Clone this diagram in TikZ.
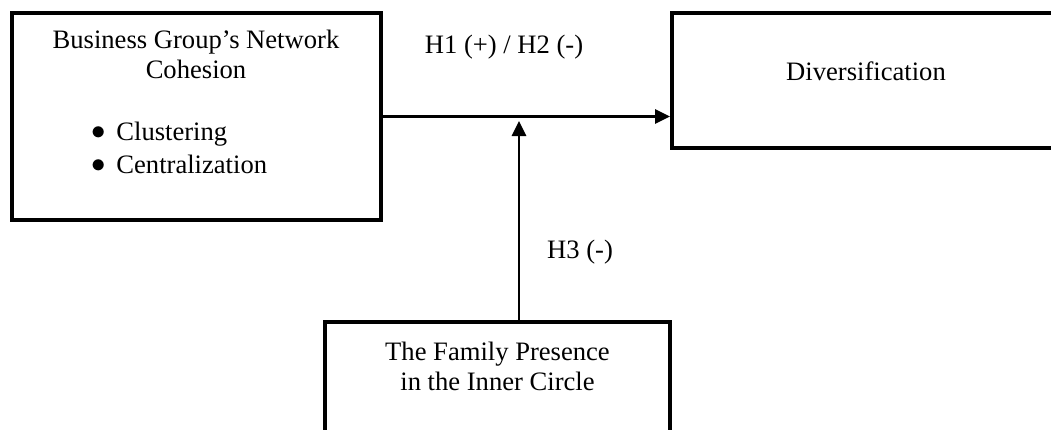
\documentclass[tikz,border=0pt]{standalone}
\usepackage{fontspec}
\setmainfont{Liberation Serif}
\usetikzlibrary{arrows.meta}
\newcommand{\dotmark}{\makebox[12.5pt][l]{\raisebox{0.1pt}{$\bullet$}}}
\begin{document}
\begin{tikzpicture}[x=0.5pt,y=-0.5pt,
  box/.style={draw,line width=2pt,rectangle,inner sep=0pt},
  lbl/.style={inner sep=0pt,anchor=base,font=\fontsize{13.3pt}{16pt}\selectfont},
  lblw/.style={lbl,anchor=base west},
  link/.style={line width=1.4pt,-{Triangle[length=7.5pt,width=7pt]}}]
\useasboundingbox (0,0) rectangle (1051,429);
\clip (0,0) rectangle (1051,429);
% boxes (right and bottom ones run past the page edge)
\node[box,minimum width=184.5pt,minimum height=103.5pt] (cohesion) at (196.5,116.5) {};
\node[box,minimum width=214pt,minimum height=67.5pt] (div) at (886,80.5) {};
\node[box,minimum width=172.5pt,minimum height=79pt] (family) at (497.5,401) {};
% texts
\node[lbl] (t1) at (196,48) {Business Group’s Network};
\node[lbl] (t2) at (196,78) {Cohesion};
\node[lblw] (b1) at (91,140) {\dotmark Clustering};
\node[lblw] (b2) at (91,173) {\dotmark Centralization};
\node[lbl] (t3) at (866,80) {Diversification};
\node[lbl] (t4) at (497.5,360) {The Family Presence};
\node[lbl] (t5) at (497.5,390) {in the Inner Circle};
\node[lbl] (h12) at (504,53) {H1 (+) / H2 (-)};
\node[lbl] (h3) at (580,258) {H3 (-)};
% connectors
\coordinate (mod) at (519,121);
\draw[link] (cohesion.east) -- (cohesion.east -| div.west);
\draw[link] (family.north -| mod) -- (mod);
\end{tikzpicture}
\end{document}
